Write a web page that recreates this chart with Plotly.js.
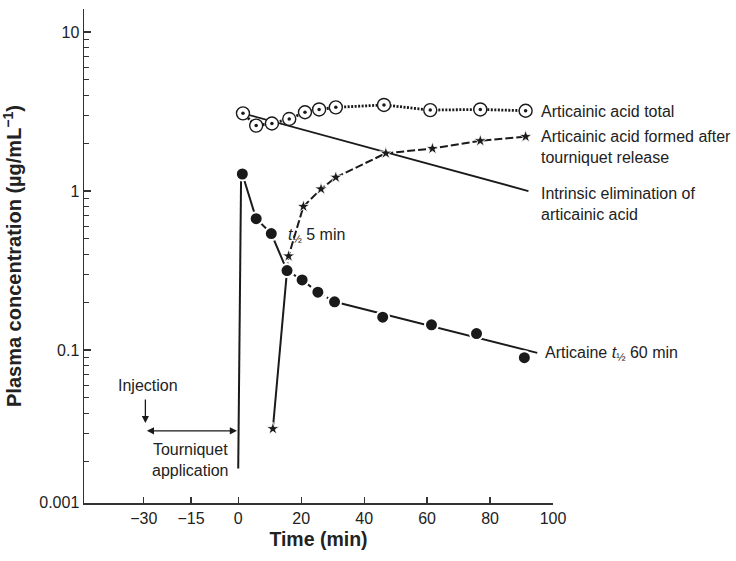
<!DOCTYPE html>
<html>
<head>
<meta charset="utf-8">
<script src="https://cdn.plot.ly/plotly-3.0.1.min.js"></script>
<style>
  html, body { margin: 0; padding: 0; background: white; }
  #chart { width: 736px; height: 561px; }
</style>
</head>
<body>
<div id="chart"></div>
<script>
// values (time in min, concentration in µg/mL)
const articaineTime = [1.3, 5.7, 10.5, 15.5, 20.3, 25.3, 30.6, 45.9, 61.4, 75.7, 90.9];
const articaineConc = [1.28, 0.67, 0.54, 0.316, 0.276, 0.231, 0.201, 0.161, 0.144, 0.127, 0.0895];

const articaineFitTime = [30.6, 95];
const articaineFitConc = [0.201, 0.096];

const injectionRiseTime = [0, 0.9];
const injectionRiseConc = [0.018, 1.2];

const formedTime = [11.0, 16.0, 20.7, 26.3, 31.0, 46.9, 61.7, 76.9, 91.3];
const formedConc = [0.032, 0.39, 0.80, 1.03, 1.22, 1.73, 1.85, 2.07, 2.20];

const totalTime = [1.5, 5.7, 10.7, 16.2, 21.2, 25.7, 31.0, 46.3, 61.0, 76.9, 91.3];
const totalConc = [3.08, 2.58, 2.66, 2.84, 3.13, 3.26, 3.36, 3.48, 3.23, 3.26, 3.20];

const eliminationTime = [1.5, 92.2];
const eliminationConc = [3.08, 1.0];

const xTickVals = [-30, -15, 0, 20, 40, 60, 80, 100];
const xTickText = ['\u221230', '\u221215', '0', '20', '40', '60', '80', '100'];
// the bottom label reads 0.001 in the source figure, it sits at the axis floor
const yTickVals = [0.0110, 0.1, 1, 10];
const yTickText = ['0.001', '0.1', '1', '10'];
const yMinorVals = [0.02, 0.03, 0.04, 0.05, 0.06, 0.07, 0.08, 0.09,
                    0.2, 0.3, 0.4, 0.5, 0.6, 0.7, 0.8, 0.9,
                    2, 3, 4, 5, 6, 7, 8, 9];

const ink = '#1a1a1a';
const fontFam = 'Arial, "Liberation Sans", sans-serif';

function lineTrace(x, y, dash, width) {
  return {
    x: x, y: y, type: 'scatter', mode: 'lines',
    line: { color: ink, width: width || 2, dash: dash || 'solid' },
    hoverinfo: 'skip'
  };
}

const traces = [
  lineTrace(eliminationTime, eliminationConc, 'solid', 1.8),
  lineTrace(totalTime, totalConc, '2px,1.5px', 2.8),
  {
    x: totalTime, y: totalConc, type: 'scatter', mode: 'markers',
    marker: { symbol: 'circle', size: 13, color: 'white', line: { color: ink, width: 1.4 } }
  },
  {
    x: totalTime, y: totalConc, type: 'scatter', mode: 'markers',
    marker: { symbol: 'circle', size: 3.5, color: ink }
  },
  lineTrace(injectionRiseTime, injectionRiseConc, 'solid', 2),
  lineTrace(articaineTime.slice(0, 4), articaineConc.slice(0, 4), 'solid', 2),
  lineTrace(articaineTime.slice(3, 7), articaineConc.slice(3, 7), '5px,3px', 2),
  lineTrace(articaineFitTime, articaineFitConc, 'solid', 2),
  lineTrace([formedTime[0], articaineTime[3]], [formedConc[0], articaineConc[3]], 'solid', 2),
  lineTrace([articaineTime[3]].concat(formedTime.slice(1)),
            [articaineConc[3]].concat(formedConc.slice(1)), '8px,3px', 2),
  {
    x: formedTime, y: formedConc, type: 'scatter', mode: 'markers',
    marker: { symbol: 'star', size: 9.5, color: ink, line: { color: 'white', width: 0.8 } }
  },
  {
    x: articaineTime, y: articaineConc, type: 'scatter', mode: 'markers',
    marker: { symbol: 'circle', size: 13, color: ink, line: { color: 'white', width: 2 } }
  }
];

const noteFont = { family: fontFam, size: 16, color: '#222' };

function note(text, x, logY, anchor) {
  return {
    text: text, x: x, y: logY, xref: 'x', yref: 'y',
    xanchor: anchor || 'left', yanchor: 'middle', align: anchor === 'center' ? 'center' : 'left',
    showarrow: false, font: noteFont
  };
}

const annotations = [
  note('Articainic acid total', 95.6, 0.503),
  note('Articainic acid formed after<br>tourniquet release', 95.6, 0.277),
  note('Intrinsic elimination of<br>articainic acid', 95.6, -0.079),
  note('Articaine <i>t</i><sub>\u00bd</sub> 60 min', 96.8, -1.019),
  note('<i>t</i><sub>\u00bd</sub> 5 min', 15.2, -0.277),
  note('Injection', -28.7, -1.226, 'center'),
  note('Tourniquet<br>application', -15.2, -1.689, 'center'),
  {
    x: -29.5, y: -1.459, ax: -29.5, ay: -1.302, xref: 'x', yref: 'y', axref: 'x', ayref: 'y',
    text: '', showarrow: true, arrowhead: 2, arrowsize: 1.1, arrowwidth: 1.3, arrowcolor: ink
  },
  {
    x: -0.4, y: -1.508, ax: -29.5, ay: -1.508, xref: 'x', yref: 'y', axref: 'x', ayref: 'y',
    text: '', showarrow: true, arrowhead: 2, startarrowhead: 2, arrowside: 'end+start',
    arrowsize: 1.1, startarrowsize: 1.1, arrowwidth: 1.3, arrowcolor: ink
  }
];

const layout = {
  width: 736,
  height: 561,
  margin: { l: 84, r: 183, t: 9, b: 58 },
  showlegend: false,
  hovermode: false,
  paper_bgcolor: 'white',
  plot_bgcolor: 'white',
  font: { family: fontFam, size: 16, color: '#222' },
  xaxis: {
    range: [-49, 100],
    tickmode: 'array',
    tickvals: xTickVals,
    ticktext: xTickText,
    ticks: 'inside',
    ticklen: 6,
    tickwidth: 1.2,
    tickcolor: '#333',
    showline: true,
    linecolor: '#333',
    linewidth: 1.5,
    showgrid: false,
    zeroline: false,
    tickfont: { size: 16 },
    title: { text: '<b>Time (min)</b>', font: { size: 19.5, color: '#222' }, standoff: 6 }
  },
  yaxis: {
    type: 'log',
    range: [-1.962, 1.145],
    tickmode: 'array',
    tickvals: yTickVals,
    ticktext: yTickText,
    ticks: 'inside',
    ticklen: 7,
    tickwidth: 1.2,
    tickcolor: '#333',
    minor: { tickmode: 'array', tickvals: yMinorVals, ticks: 'inside', ticklen: 5, tickcolor: '#333', tickwidth: 1 },
    showline: true,
    linecolor: '#333',
    linewidth: 1.5,
    showgrid: false,
    zeroline: false,
    tickfont: { size: 16 },
    title: { text: '<b>Plasma concentration (\u00b5g/mL<sup>\u22121</sup>)</b>', font: { size: 20, color: '#222' }, standoff: 22 }
  },
  annotations: annotations
};

Plotly.newPlot('chart', traces, layout, { displayModeBar: false, staticPlot: true });
</script>
</body>
</html>
